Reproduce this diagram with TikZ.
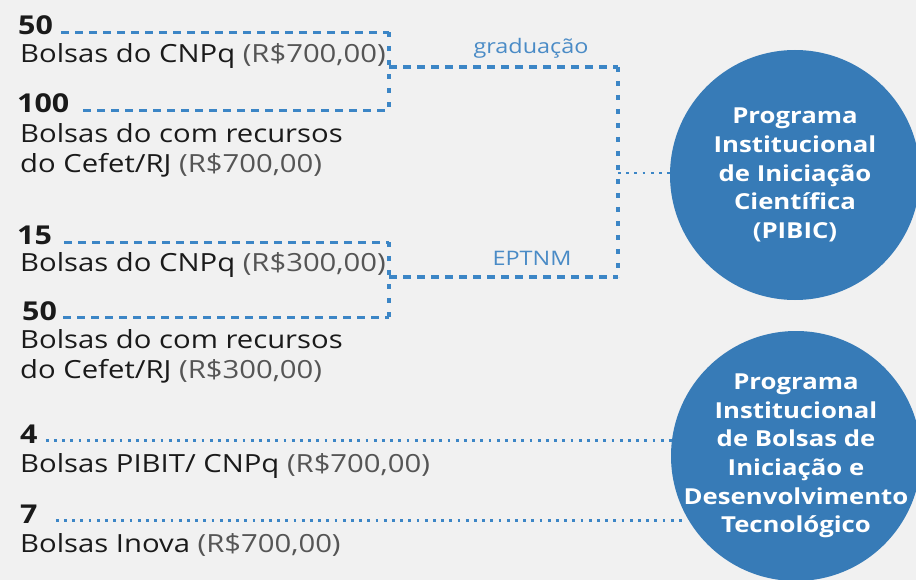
\documentclass[tikz,border=0pt]{standalone}
\usepackage{fontspec}
\setmainfont{Open Sans}[FakeStretch=1.17]
\usepackage{xcolor}
\usepackage{tikz}
\usetikzlibrary{positioning, calc}

\definecolor{fundo}{HTML}{F1F1F1}
\definecolor{azul}{HTML}{3C86C6}
\definecolor{circulo}{HTML}{377BB7}
\definecolor{azulrotulo}{HTML}{4A8BC6}
\definecolor{cinza}{HTML}{555555}
\definecolor{texto}{HTML}{1A1A1A}
\newcommand{\valor}[1]{\textcolor{cinza}{#1}}

\begin{document}
\begin{tikzpicture}[
    x=1pt, y=-1pt,
    numero/.style={
        anchor=base west,
        inner sep=0pt,
        text=texto,
        font=\fontsize{26}{30}\selectfont\bfseries
    },
    bolsa/.style={
        anchor=base west,
        inner sep=0pt,
        align=left,
        text=texto,
        font=\fontsize{25}{30}\selectfont
    },
    programa/.style={
        circle,
        fill=circulo,
        minimum size=250pt,
        inner sep=-25pt,
        align=center,
        text=white,
        font=\fontsize{22}{28.7}\selectfont\bfseries
    },
    rotulo/.style={text=azulrotulo, font=\fontsize{20}{24}\selectfont},
    hdash/.style={azul, line width=3.3pt, dash pattern=on 8pt off 6pt},
    vdash/.style={azul, line width=3.3pt, dash pattern=on 5pt off 9pt},
    pontos/.style={azul, line width=2.8pt, dash pattern=on 2.8pt off 5.4pt}
]

\fill[fundo] (0,0) rectangle (916,580);
\useasboundingbox (0,0) rectangle (916,580);

% bolsas (a base de um texto em duas linhas fica na ultima linha)
\node[numero] (n50g) at (18,35) {50};
\node[bolsa] (b50g) at (20,63) {Bolsas do CNPq \valor{(R\$700,00)}};
\node[numero] (n100g) at (17,113) {100};
\node[bolsa] (b100g) at (20,173) {Bolsas do com recursos\\do Cefet/RJ \valor{(R\$700,00)}};

\node[numero] (n15e) at (17,245) {15};
\node[bolsa] (b15e) at (20,272) {Bolsas do CNPq \valor{(R\$300,00)}};
\node[numero] (n50e) at (22,320) {50};
\node[bolsa] (b50e) at (20,378) {Bolsas do com recursos\\do Cefet/RJ \valor{(R\$300,00)}};

\node[numero] (n4) at (20,443) {4};
\node[bolsa] (b4) at (20,472) {Bolsas PIBIT/ CNPq \valor{(R\$700,00)}};
\node[numero] (n7) at (20,523) {7};
\node[bolsa] (b7) at (20,552) {Bolsas Inova \valor{(R\$700,00)}};

% programas
\node[programa] (pibic) at (795,175) {Programa\\Institucional\\de Iniciação\\Científica\\(PIBIC)};
\node[programa] (pibiti) at (796,456) {Programa\\Institucional\\de Bolsas de\\Iniciação e\\Desenvolvimento\\Tecnológico};

% chaves
\coordinate (gradV) at (389,67);
\coordinate (gradC) at (618,67);
\coordinate (eptV) at (389,277);
\coordinate (eptC) at (618,277);
\coordinate (juncao) at (618,173);

\node[rotulo] (grad) at (531,48) {graduação};
\node[rotulo] (ept) at (532,258) {EPTNM};

\draw[hdash, shorten <=8pt] (n50g.mid east) -- (n50g.mid east -| gradV);
\draw[hdash, shorten <=14pt] (n100g.mid east) -- (n100g.mid east -| gradV);
\draw[vdash] (n50g.mid east -| gradV) -- (n100g.mid east -| gradV);
\draw[hdash, shorten <=12pt] (n15e.mid east) -- (n15e.mid east -| eptV);
\draw[hdash, shorten <=6pt] (n50e.mid east) -- (n50e.mid east -| eptV);
\draw[vdash] (n15e.mid east -| eptV) -- (n50e.mid east -| eptV);

\draw[hdash] (gradV) -- (gradC);
\draw[hdash] (eptV) -- (eptC);
\draw[vdash] (gradC) -- (eptC);
\draw[pontos] (juncao) -- (juncao -| pibic.west);

\draw[pontos, shorten <=8pt] (n4.mid east) -- (n4.mid east -| pibiti.170);
\draw[pontos, shorten <=18pt] (n7.mid east) -- (n7.mid east -| pibiti.209);

\end{tikzpicture}
\end{document}
